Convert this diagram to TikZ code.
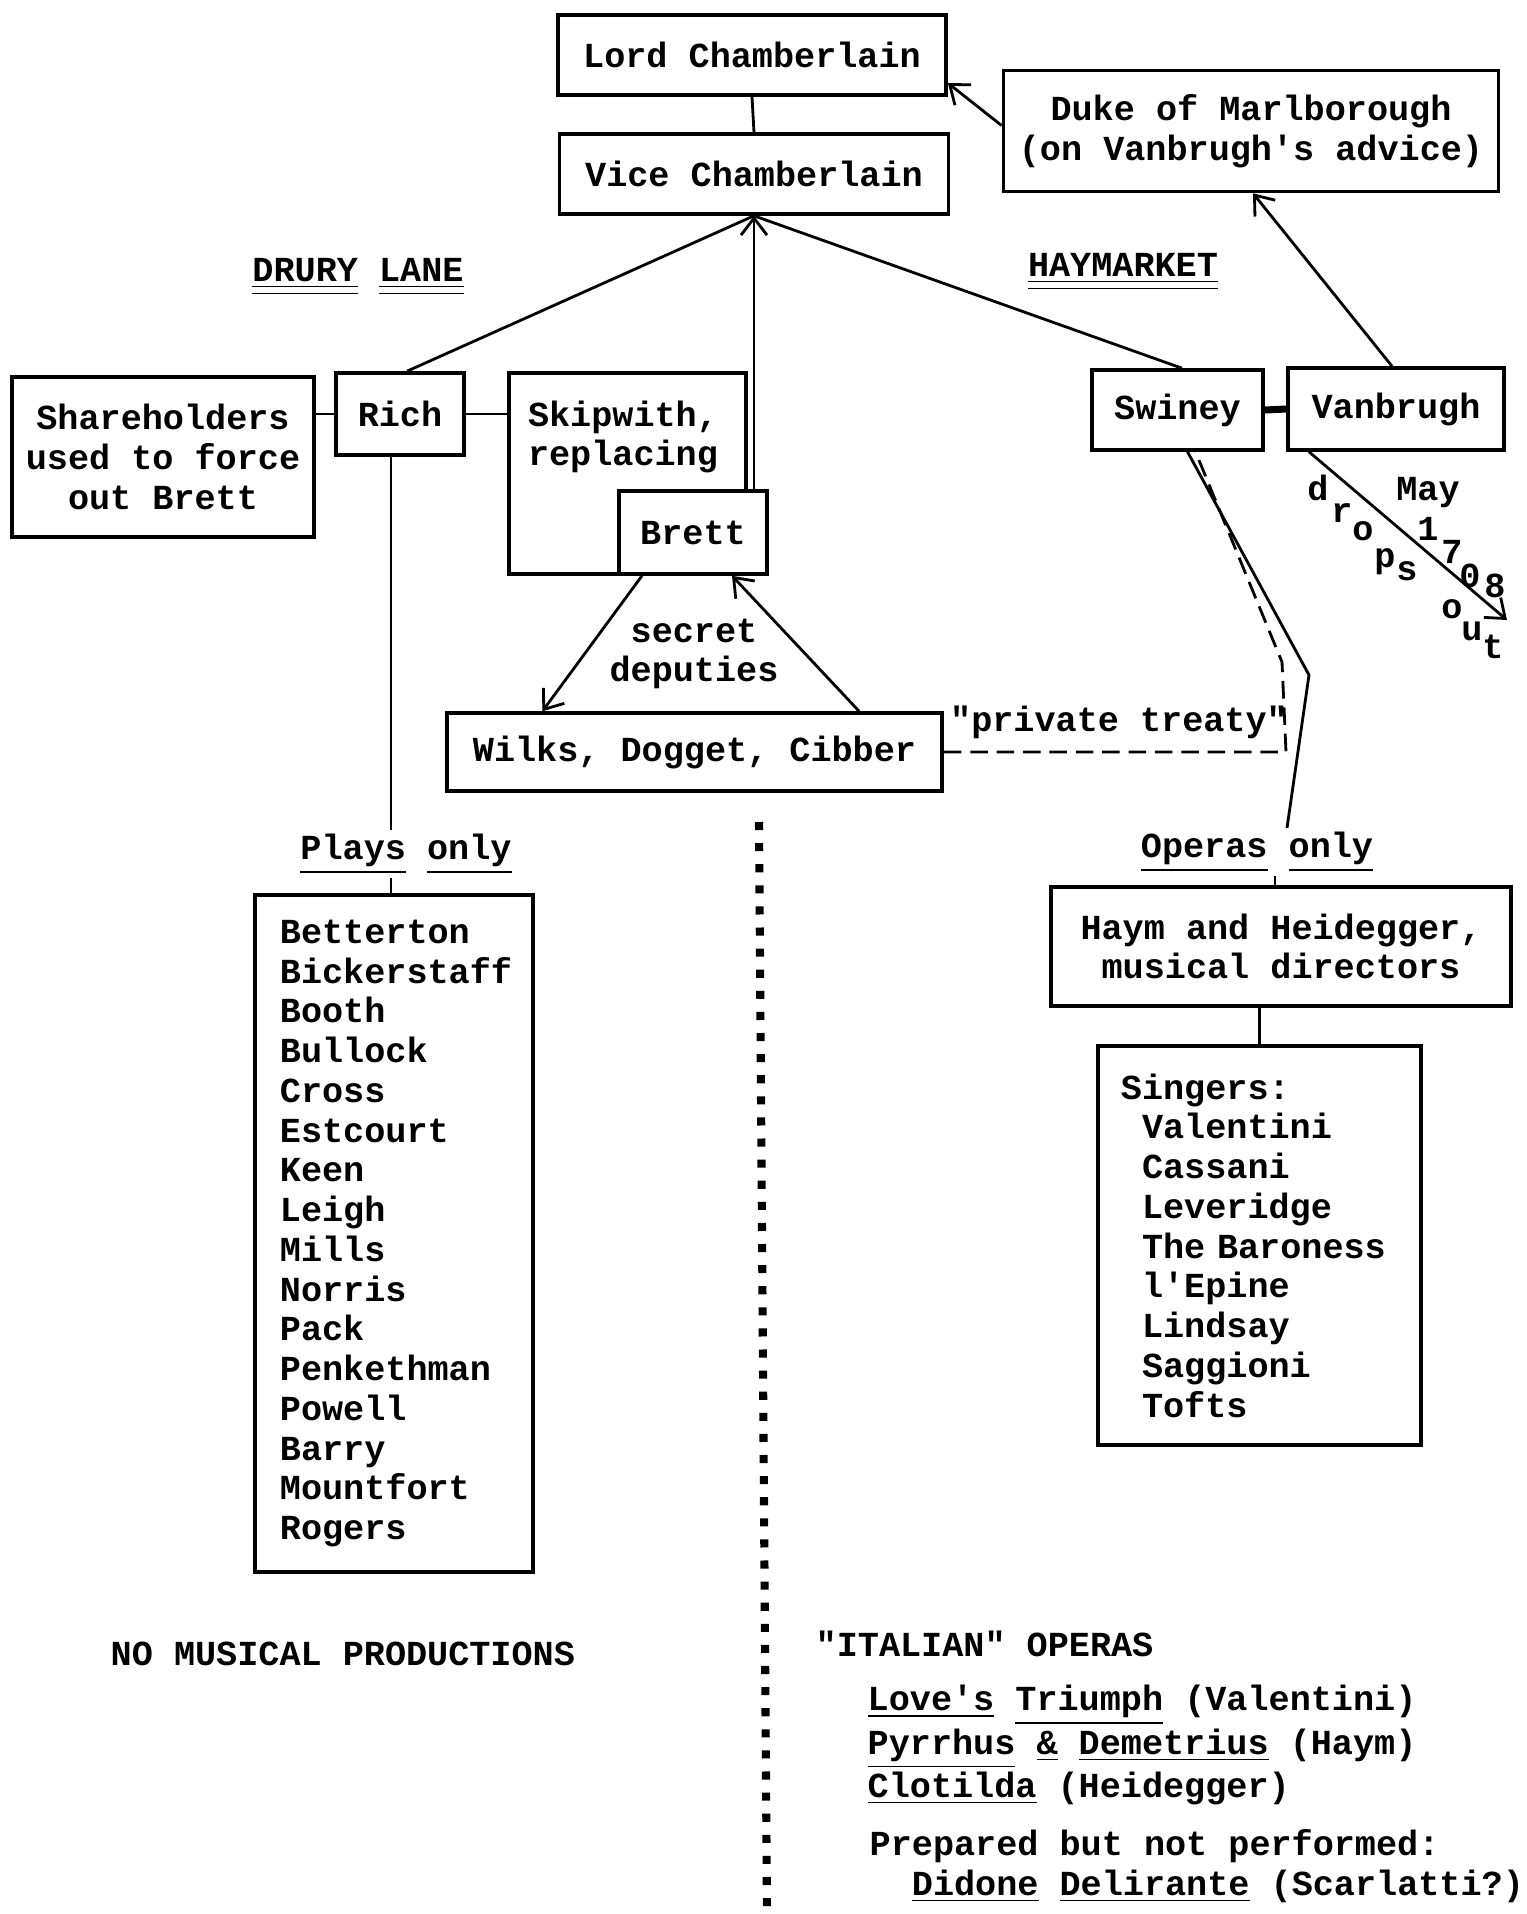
\documentclass[tikz,border=0pt]{standalone}
\usepackage{fontspec}
\newfontfamily\typer{Liberation Mono}
\usetikzlibrary{arrows.meta,calc}
\newcommand{\dul}[1]{\underline{\underline{#1}}}
\newcommand{\ind}{\hspace*{0.6em}}

\begin{document}
\begin{tikzpicture}[
    x=0.01cm,y=-0.01cm,
    font=\typer\bfseries\fontsize{10}{11.3}\selectfont,
    box/.style     = {draw,line width=1pt,fill=white,align=center,inner sep=0pt},
    lst/.style     = {draw,line width=1pt,fill=white,align=left,inner xsep=0.24cm},
    lbl/.style     = {align=center,inner sep=1pt},
    cn/.style      = {line width=0.8pt},
    arr/.style     = {cn,-{Straight Barb[length=1.7mm,width=2.6mm]}},
    tline/.style   = {cn,dash pattern=on 5pt off 2.5pt},
    divider/.style = {line width=2.3pt,dash pattern=on 2.3pt off 3.7pt},
  ]
  \useasboundingbox (0,0) rectangle (1526,1914);

  % chamberlains
  \node[box,minimum width=3.88cm,minimum height=0.80cm] (lord) at (752,55) {Lord Chamberlain};
  \node[box,minimum width=3.89cm,minimum height=0.80cm] (vice) at (754,174) {Vice Chamberlain};
  \node[box,minimum width=4.95cm,minimum height=1.21cm] (duke) at (1251,131)
       {Duke of Marlborough\\(on Vanbrugh's advice)};

  \node[lbl] (drury)  at (358,277)  {\dul{DRURY} \dul{LANE}};
  \node[lbl] (haymkt) at (1123,272) {\dul{HAYMARKET}};

  % Drury Lane side
  \node[box,minimum width=3.02cm,minimum height=1.60cm] (share) at (163,457)
       {Shareholders\\used to force\\out Brett};
  \node[box,minimum width=1.28cm,minimum height=0.82cm] (rich) at (400,414) {Rich};
  \node[box,minimum width=2.37cm,minimum height=2.01cm] (skip) at (627.5,473.5) {};
  \node[lbl,align=left] (skiptxt) at (623,437) {Skipwith,\\replacing};
  \node[box,minimum width=1.48cm,minimum height=0.83cm] (brett) at (693,532.5) {Brett};
  \node[lbl] (secret) at (694,654) {secret\\deputies};
  \node[box,minimum width=4.95cm,minimum height=0.78cm] (wilks) at (694.5,752)
       {Wilks, Dogget, Cibber};

  % Haymarket side
  \node[box,minimum width=1.71cm,minimum height=0.80cm] (swiney) at (1177.5,410) {Swiney};
  \node[box,minimum width=2.16cm,minimum height=0.82cm] (vanbrugh) at (1396,409) {Vanbrugh};
  \node[lbl] (treaty) at (1119,722) {"private treaty"};

  \node[anchor=base,inner sep=0pt] (may) at (1428,500) {May};
  \foreach \c/\px/\py [count=\i] in {d/1318/500,r/1342/522,o/1363/540,p/1385/567,
                                      s/1407/580,o/1452/618,u/1472/640,t/1493/658}
    \node[anchor=base,inner sep=0pt] (drop\i) at (\px,\py) {\c};
  \foreach \c/\px/\py [count=\i] in {1/1428/540,7/1452/563,0/1470/587,8/1495/597}
    \node[anchor=base,inner sep=0pt] (yr\i) at (\px,\py) {\c};
  \coordinate (dropend) at (1507,620);

  % companies
  \node[lbl] (plays)  at (406,854)  {\underline{Plays} \underline{only}};
  \node[lbl] (operas) at (1257,852) {\underline{Operas} \underline{only}};

  \node[lst,text width=2.28cm,minimum width=2.78cm,minimum height=6.77cm] (actors) at (394,1233.5)
       {Betterton\\Bickerstaff\\Booth\\Bullock\\Cross\\Estcourt\\Keen\\Leigh\\Mills\\Norris\\
        Pack\\Penkethman\\Powell\\Barry\\Mountfort\\Rogers};
  \node[box,minimum width=4.60cm,minimum height=1.19cm] (haym) at (1281,946.5)
       {Haym and Heidegger,\\musical directors};
  \node[lst,inner xsep=0.23cm,text width=2.77cm,minimum width=3.23cm,minimum height=3.99cm]
       (singers) at (1259.5,1245.5)
       {Singers:\\\ind Valentini\\\ind Cassani\\\ind Leveridge\\\ind The Baroness\\
        \ind l'Epine\\\ind Lindsay\\\ind Saggioni\\\ind Tofts};

  % bottom
  \coordinate (divtop) at (759,822);
  \coordinate (divbot) at (767,1914);
  \draw[divider] (divtop) -- (divbot);

  \node[anchor=west,inner sep=0pt] (nomus) at (110,1654) {NO MUSICAL PRODUCTIONS};
  \node[anchor=west,inner sep=0pt] (italian) at (815,1644) {"ITALIAN" OPERAS};
  \node[anchor=west,inner sep=0pt,align=left] (titles) at (867,1745)
       {\underline{Love's} \underline{Triumph} (Valentini)\\
        \underline{Pyrrhus} \underline{\&} \underline{Demetrius} (Haym)\\
        \underline{Clotilda} (Heidegger)};
  \node[anchor=west,inner sep=0pt,align=left] (prep) at (869,1866)
       {Prepared but not performed:\\
        \ind\ind\underline{Didone} \underline{Delirante} (Scarlatti?)};

  % connectors
  \draw[cn] (lord.south) -- (vice.north);
  \draw[arr] ([yshift=0.055cm]duke.west) -- ([yshift=-0.28cm]lord.east);
  \draw[arr] ([xshift=-0.04cm]vanbrugh.north) -- ([xshift=0.02cm]duke.south);
  \draw[cn] ([xshift=0.07cm]rich.north) -- (vice.south);
  \draw[cn] ([xshift=0.045cm]swiney.north) -- (vice.south);
  \draw[arr] (vice.south |- brett.north) -- (vice.south);
  \draw[cn] (share.east |- rich.west) -- (rich.west);
  \draw[cn] (rich.east) -- (rich.east -| skip.west);
  \draw[arr] ([xshift=-0.51cm]brett.south) -- ([xshift=-1.52cm]wilks.north);
  \draw[arr] ([xshift=1.645cm]wilks.north) -- ([xshift=0.39cm]brett.south);
  \draw[cn,line width=2pt] (swiney.east) -- (vanbrugh.west);
  \draw[arr] ([xshift=-0.87cm]vanbrugh.south) -- (dropend);

  \coordinate (sbend)   at (1309,675);
  \coordinate (tcorner) at (1286,752);
  \coordinate (tbend)   at (1282,662);
  \draw[cn] ([xshift=0.1cm]swiney.south) -- (sbend) -- ([xshift=0.3cm]operas.north);
  \draw[tline] (wilks.east) -- (tcorner) -- (tbend) -- ([xshift=0.18cm]swiney.south);

  \draw[cn] ([xshift=-0.09cm]rich.south) -- ([xshift=-0.09cm]rich.south |- plays.north);
  \draw[cn] ([xshift=-0.15cm]plays.south) -- ([xshift=-0.15cm]plays.south |- actors.north);
  \draw[cn] ([xshift=0.18cm]operas.south) -- ([xshift=0.18cm]operas.south |- haym.north);
  \draw[cn] (singers.north |- haym.south) -- (singers.north);

\end{tikzpicture}
\end{document}
